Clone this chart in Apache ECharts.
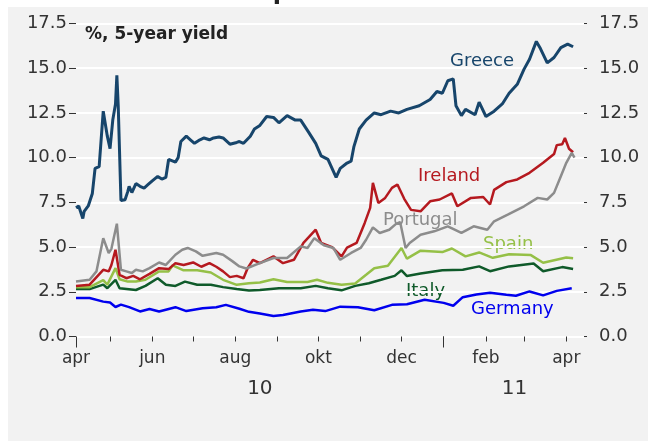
<!DOCTYPE html>
<html>
<head>
<meta charset="utf-8">
<script src="https://cdn.jsdelivr.net/npm/echarts@6/dist/echarts.min.js"></script>
<style>
  html, body { margin: 0; padding: 0; background: #fff; }
  #chart { width: 648px; height: 441px; }
</style>
</head>
<body>
<div id="chart"></div>
<script>
// 5-year government bond yields, %
const greece = [['2010-04-06',7.2],['2010-04-08',7.3],['2010-04-11',6.6],['2010-04-12',7.0],['2010-04-15',7.3],['2010-04-18',8.0],['2010-04-20',9.4],['2010-04-23',9.5],['2010-04-26',12.6],['2010-04-29',11.2],['2010-05-01',10.5],['2010-05-03',12.1],['2010-05-05',13.0],['2010-05-06',14.6],['2010-05-07',12.9],['2010-05-09',7.6],['2010-05-12',7.65],['2010-05-14',8.1],['2010-05-15',8.4],['2010-05-17',8.05],['2010-05-20',8.55],['2010-05-23',8.4],['2010-05-26',8.3],['2010-05-29',8.5],['2010-06-01',8.7],['2010-06-05',8.95],['2010-06-08',8.8],['2010-06-11',8.9],['2010-06-13',9.9],['2010-06-18',9.75],['2010-06-20',10.0],['2010-06-22',10.9],['2010-06-26',11.2],['2010-06-29',11.0],['2010-07-02',10.8],['2010-07-06',11.0],['2010-07-09',11.1],['2010-07-13',11.0],['2010-07-16',11.1],['2010-07-20',11.15],['2010-07-23',11.1],['2010-07-28',10.75],['2010-08-02',10.85],['2010-08-04',10.9],['2010-08-07',10.8],['2010-08-12',11.2],['2010-08-15',11.6],['2010-08-19',11.8],['2010-08-24',12.3],['2010-08-29',12.25],['2010-09-02',11.95],['2010-09-08',12.35],['2010-09-14',12.1],['2010-09-18',12.1],['2010-09-24',11.4],['2010-09-29',10.8],['2010-10-03',10.1],['2010-10-08',9.9],['2010-10-14',8.9],['2010-10-17',9.4],['2010-10-22',9.7],['2010-10-25',9.8],['2010-10-27',10.6],['2010-10-31',11.6],['2010-11-05',12.1],['2010-11-11',12.5],['2010-11-16',12.4],['2010-11-23',12.6],['2010-11-29',12.5],['2010-12-05',12.7],['2010-12-14',12.9],['2010-12-22',13.25],['2010-12-27',13.7],['2010-12-31',13.6],['2011-01-04',14.3],['2011-01-08',14.4],['2011-01-10',12.9],['2011-01-14',12.35],['2011-01-17',12.7],['2011-01-24',12.4],['2011-01-27',13.1],['2011-02-01',12.3],['2011-02-07',12.6],['2011-02-13',13.0],['2011-02-18',13.6],['2011-02-24',14.1],['2011-03-01',14.95],['2011-03-05',15.5],['2011-03-10',16.5],['2011-03-13',16.1],['2011-03-18',15.3],['2011-03-23',15.6],['2011-03-28',16.15],['2011-04-02',16.35],['2011-04-06',16.2]];

const ireland = [['2010-04-06',2.83],['2010-04-16',2.9],['2010-04-26',3.73],['2010-04-30',3.64],['2010-05-02',4.0],['2010-05-05',4.85],['2010-05-08',3.45],['2010-05-13',3.26],['2010-05-18',3.39],['2010-05-23',3.2],['2010-05-30',3.5],['2010-06-06',3.82],['2010-06-13',3.77],['2010-06-18',4.1],['2010-06-24',4.0],['2010-07-01',4.14],['2010-07-07',3.9],['2010-07-13',4.1],['2010-07-18',3.9],['2010-07-23',3.64],['2010-07-28',3.32],['2010-08-02',3.39],['2010-08-07',3.26],['2010-08-10',3.82],['2010-08-14',4.29],['2010-08-19',4.1],['2010-08-29',4.48],['2010-09-05',4.1],['2010-09-13',4.29],['2010-09-20',5.23],['2010-09-29',5.97],['2010-10-03',5.23],['2010-10-11',5.0],['2010-10-18',4.48],['2010-10-22',4.97],['2010-10-29',5.23],['2010-11-04',6.35],['2010-11-08',7.19],['2010-11-10',8.59],['2010-11-14',7.47],['2010-11-19',7.75],['2010-11-24',8.31],['2010-11-28',8.5],['2010-12-03',7.7],['2010-12-08',7.08],['2010-12-15',7.0],['2010-12-22',7.56],['2010-12-29',7.66],['2011-01-07',8.0],['2011-01-11',7.28],['2011-01-21',7.75],['2011-01-30',7.8],['2011-02-04',7.38],['2011-02-07',8.2],['2011-02-16',8.63],['2011-02-24',8.78],['2011-03-05',9.15],['2011-03-15',9.71],['2011-03-23',10.2],['2011-03-25',10.7],['2011-03-29',10.75],['2011-03-31',11.1],['2011-04-03',10.5],['2011-04-06',10.3]];

const portugal = [['2010-04-06',3.07],['2010-04-16',3.17],['2010-04-21',3.64],['2010-04-26',5.5],['2010-04-30',4.67],['2010-05-02',4.9],['2010-05-06',6.31],['2010-05-09',3.73],['2010-05-13',3.64],['2010-05-17',3.55],['2010-05-20',3.73],['2010-05-25',3.64],['2010-05-30',3.82],['2010-06-06',4.14],['2010-06-11',4.0],['2010-06-18',4.57],['2010-06-23',4.85],['2010-06-27',4.95],['2010-07-03',4.76],['2010-07-08',4.51],['2010-07-18',4.67],['2010-07-23',4.57],['2010-07-30',4.2],['2010-08-04',3.92],['2010-08-09',3.8],['2010-08-19',4.1],['2010-08-29',4.39],['2010-09-08',4.39],['2010-09-18',5.04],['2010-09-23',4.95],['2010-09-28',5.5],['2010-10-05',5.1],['2010-10-12',4.95],['2010-10-17',4.29],['2010-10-25',4.67],['2010-11-01',4.95],['2010-11-05',5.41],['2010-11-10',6.1],['2010-11-15',5.79],['2010-11-22',5.97],['2010-11-27',6.3],['2010-11-30',6.4],['2010-12-04',4.95],['2010-12-07',5.23],['2010-12-15',5.69],['2010-12-25',5.88],['2011-01-04',6.16],['2011-01-14',5.79],['2011-01-23',6.16],['2011-02-02',5.97],['2011-02-07',6.44],['2011-02-17',6.81],['2011-03-01',7.28],['2011-03-11',7.75],['2011-03-18',7.66],['2011-03-23',8.03],['2011-03-28',8.96],['2011-04-01',9.71],['2011-04-05',10.27],['2011-04-07',10.0]];

const spain = [['2010-04-06',2.76],['2010-04-16',2.76],['2010-04-26',3.15],['2010-04-29',2.9],['2010-05-05',3.82],['2010-05-08',3.2],['2010-05-14',3.07],['2010-05-20',3.07],['2010-05-27',3.17],['2010-06-06',3.64],['2010-06-13',3.64],['2010-06-16',3.98],['2010-06-24',3.7],['2010-07-04',3.7],['2010-07-14',3.58],['2010-07-23',3.17],['2010-08-02',2.89],['2010-08-11',2.98],['2010-08-19',3.02],['2010-08-29',3.2],['2010-09-08',3.05],['2010-09-23',3.05],['2010-09-30',3.17],['2010-10-08',3.0],['2010-10-18',2.89],['2010-10-28',2.96],['2010-11-05',3.45],['2010-11-11',3.82],['2010-11-21',3.95],['2010-12-01',4.95],['2010-12-05',4.35],['2010-12-15',4.8],['2010-12-31',4.72],['2011-01-07',4.92],['2011-01-17',4.48],['2011-01-27',4.7],['2011-02-06',4.4],['2011-02-18',4.6],['2011-03-06',4.55],['2011-03-15',4.12],['2011-04-01',4.42],['2011-04-06',4.38]];

const italy = [['2010-04-06',2.65],['2010-04-16',2.65],['2010-04-26',2.9],['2010-04-29',2.7],['2010-05-05',3.17],['2010-05-08',2.7],['2010-05-20',2.6],['2010-05-27',2.83],['2010-06-05',3.26],['2010-06-11',2.89],['2010-06-18',2.83],['2010-06-25',3.07],['2010-07-04',2.89],['2010-07-14',2.89],['2010-07-23',2.76],['2010-08-02',2.65],['2010-08-11',2.57],['2010-08-19',2.6],['2010-09-02',2.7],['2010-09-18',2.7],['2010-09-29',2.83],['2010-10-08',2.7],['2010-10-18',2.58],['2010-10-28',2.83],['2010-11-07',2.98],['2010-11-16',3.17],['2010-11-26',3.39],['2010-12-01',3.7],['2010-12-05',3.38],['2010-12-15',3.52],['2010-12-31',3.7],['2011-01-15',3.73],['2011-01-27',3.92],['2011-02-04',3.65],['2011-02-18',3.92],['2011-03-08',4.08],['2011-03-15',3.65],['2011-03-29',3.88],['2011-04-06',3.78]];

const germany = [['2010-04-06',2.15],['2010-04-16',2.15],['2010-04-26',1.95],['2010-05-01',1.9],['2010-05-05',1.65],['2010-05-09',1.78],['2010-05-15',1.64],['2010-05-23',1.4],['2010-05-30',1.54],['2010-06-06',1.4],['2010-06-18',1.64],['2010-06-26',1.42],['2010-07-08',1.58],['2010-07-18',1.64],['2010-07-25',1.77],['2010-08-04',1.55],['2010-08-11',1.38],['2010-08-19',1.28],['2010-08-29',1.15],['2010-09-05',1.2],['2010-09-18',1.4],['2010-09-27',1.49],['2010-10-06',1.42],['2010-10-17',1.67],['2010-10-30',1.63],['2010-11-11',1.47],['2010-11-24',1.77],['2010-12-05',1.8],['2010-12-18',2.05],['2011-01-01',1.88],['2011-01-08',1.72],['2011-01-15',2.2],['2011-01-25',2.35],['2011-02-04',2.45],['2011-02-16',2.33],['2011-02-23',2.28],['2011-03-05',2.52],['2011-03-15',2.3],['2011-03-25',2.55],['2011-04-05',2.7]];

// axis text
const monthNames = ['jan','feb','mar','apr','mai','jun','jul','aug','sep','okt','nov','dec'];
const labelMonths = ['06','08','10','12','02','04'];
const yearLabels = { '2010-08-19': '10', '2011-02-22': '11' };
const yTicks = [0, 17.5, 2.5];

// one category per day over the axis span
const days = [];
for (let t = Date.UTC(2010, 3, 6); t <= Date.UTC(2011, 3, 14); t += 86400000) {
  days.push(new Date(t).toISOString().slice(0, 10));
}

const FONT = '"DejaVu Sans", sans-serif';
const TXT = '#333';

const chart = echarts.init(document.getElementById('chart'));
chart.setOption({
  animation: false,
  backgroundColor: '#f2f2f2',
  grid: { left: 76, right: 64, top: 23.5, bottom: 104.5 },
  xAxis: [
    {
      type: 'category', data: days, boundaryGap: false,
      axisLine: { show: false },
      axisTick: { interval: (i, v) => v.slice(8) === '01', length: 5, lineStyle: { color: TXT } },
      axisLabel: {
        interval: (i, v) => i === 0 || (v.slice(8) === '01' && labelMonths.includes(v.slice(5, 7))),
        formatter: v => monthNames[+v.slice(5, 7) - 1],
        color: TXT, fontSize: 17, fontFamily: FONT, margin: 14
      },
      splitLine: { show: false }
    },
    {
      // year boundary ticks and year labels
      type: 'category', data: days, boundaryGap: false, position: 'bottom',
      axisLine: { show: false },
      axisTick: { interval: (i, v) => i === 0 || v === '2011-01-01', length: 11, lineStyle: { color: TXT } },
      axisLabel: {
        interval: (i, v) => v in yearLabels,
        formatter: v => yearLabels[v] || '',
        color: TXT, fontSize: 20, fontFamily: FONT, margin: 42
      },
      splitLine: { show: false }
    }
  ],
  yAxis: [
    {
      type: 'value', min: yTicks[0], max: yTicks[1], interval: yTicks[2], position: 'left',
      axisLine: { show: false },
      axisTick: { show: true, length: 7, lineStyle: { color: TXT } },
      axisLabel: { formatter: v => v.toFixed(1), color: TXT, fontSize: 18, fontFamily: FONT, margin: 9 },
      splitLine: { lineStyle: { color: '#ffffff', width: 2 } }
    },
    {
      type: 'value', min: yTicks[0], max: yTicks[1], interval: yTicks[2], position: 'right',
      axisLine: { show: false },
      axisTick: { show: true, length: 3, lineStyle: { color: TXT } },
      axisLabel: { formatter: v => v.toFixed(1), color: TXT, fontSize: 18, fontFamily: FONT, margin: 15 },
      splitLine: { show: false }
    }
  ],
  graphic: [
    { type: 'rect', shape: { x: 0, y: 0, width: 648, height: 7 }, style: { fill: '#fff' }, silent: true },
    { type: 'rect', shape: { x: 0, y: 0, width: 8, height: 441 }, style: { fill: '#fff' }, silent: true },
    { type: 'text', x: 343, y: -7, style: { text: 'European countries', font: 'bold 24px ' + FONT, fill: '#222', align: 'center', verticalAlign: 'middle' } },
    { type: 'text', x: 85, y: 35, style: { text: '%, 5-year yield', font: 'bold 17px ' + FONT, fill: '#222', verticalAlign: 'middle' } },
    { type: 'text', x: 450, y: 61, style: { text: 'Greece', font: '18px ' + FONT, fill: '#17456b', verticalAlign: 'middle' } },
    { type: 'text', x: 418, y: 176, style: { text: 'Ireland', font: '18px ' + FONT, fill: '#b5191f', verticalAlign: 'middle' } },
    { type: 'text', x: 383, y: 220, style: { text: 'Portugal', font: '18px ' + FONT, fill: '#8c8c8c', verticalAlign: 'middle' } },
    { type: 'text', x: 483, y: 244, style: { text: 'Spain', font: '18px ' + FONT, fill: '#95c047', verticalAlign: 'middle' } },
    { type: 'text', x: 406, y: 291, style: { text: 'Italy', font: '18px ' + FONT, fill: '#0f5a2a', verticalAlign: 'middle' } },
    { type: 'text', x: 471, y: 309, style: { text: 'Germany', font: '18px ' + FONT, fill: '#0000ee', verticalAlign: 'middle' } }
  ],
  series: [
    { name: 'Greece', type: 'line', data: greece, symbol: 'none', lineStyle: { width: 3, color: '#17456b' } },
    { name: 'Germany', type: 'line', data: germany, symbol: 'none', lineStyle: { width: 2.5, color: '#0000ee' } },
    { name: 'Italy', type: 'line', data: italy, symbol: 'none', lineStyle: { width: 2.5, color: '#0f5a2a' } },
    { name: 'Spain', type: 'line', data: spain, symbol: 'none', lineStyle: { width: 2.5, color: '#95c047' } },
    { name: 'Ireland', type: 'line', data: ireland, symbol: 'none', lineStyle: { width: 2.5, color: '#b5191f' } },
    { name: 'Portugal', type: 'line', data: portugal, symbol: 'none', lineStyle: { width: 2.5, color: '#8c8c8c' } }
  ]
});
</script>
</body>
</html>
